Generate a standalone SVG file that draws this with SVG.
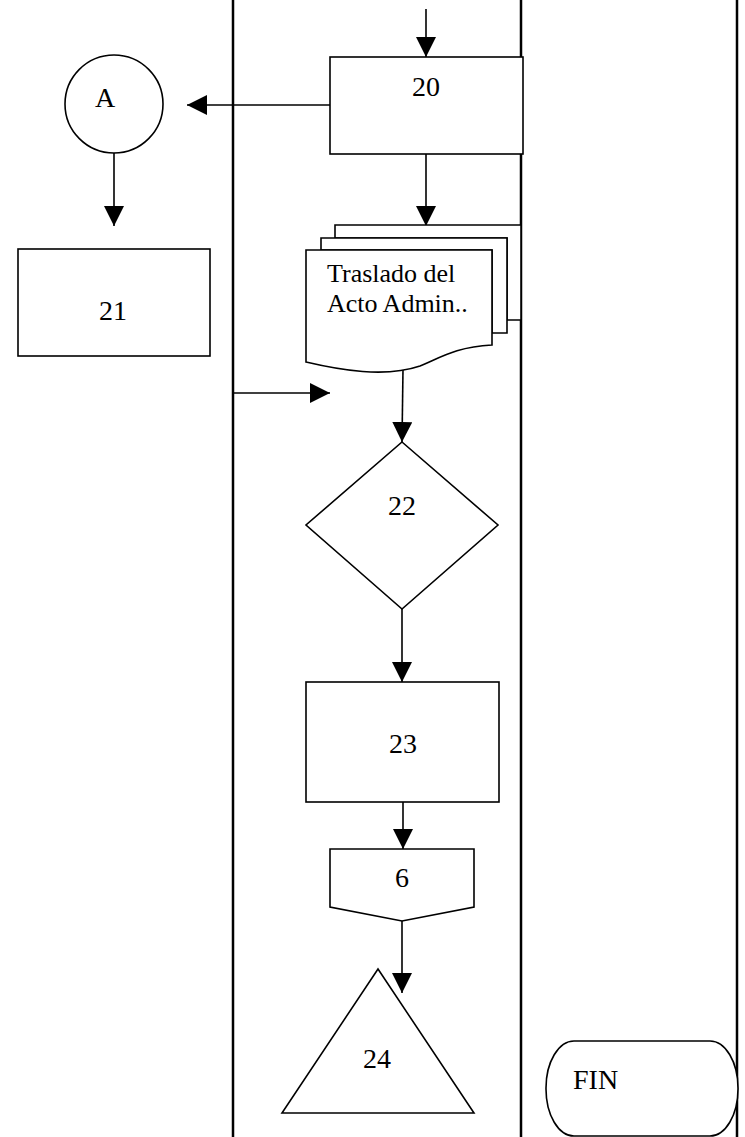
<svg xmlns="http://www.w3.org/2000/svg" width="745" height="1137" viewBox="0 0 745 1137">
  <style>
    .shape { fill: #fff; stroke: #000; stroke-width: 1.6; }
    .lane { stroke: #000; stroke-width: 2.5; fill: none; }
    .link { stroke: #000; stroke-width: 1.6; fill: none; }
    .lbl { font-family: "Liberation Serif", "Times New Roman", serif; font-size: 28px; fill: #000; }
    .doc { font-family: "Liberation Serif", "Times New Roman", serif; font-size: 26px; fill: #000; }
  </style>
  <defs>
    <marker id="arrow" viewBox="0 0 20 20" refX="20" refY="10" markerWidth="20" markerHeight="20" markerUnits="userSpaceOnUse" orient="auto">
      <path d="M0,0 L20,10 L0,20 Z" fill="#000"/>
    </marker>
  </defs>

  <rect width="745" height="1137" fill="#fff"/>

  <!-- swimlane separators -->
  <g id="lanes">
    <line class="lane" x1="233" y1="0" x2="233" y2="1137"/>
    <line class="lane" x1="521" y1="0" x2="521" y2="1137"/>
    <line class="lane" x1="737" y1="0" x2="737" y2="1137"/>
  </g>

  <!-- connectors -->
  <g id="connectors">
    <line class="link" x1="426" y1="9" x2="426" y2="57" marker-end="url(#arrow)"/>
    <line class="link" x1="330" y1="105" x2="187" y2="105" marker-end="url(#arrow)"/>
    <line class="link" x1="114" y1="153" x2="114" y2="226" marker-end="url(#arrow)"/>
    <line class="link" x1="426" y1="154" x2="426" y2="226" marker-end="url(#arrow)"/>
    <line class="link" x1="233" y1="393" x2="330" y2="393" marker-end="url(#arrow)"/>
    <line class="link" x1="403" y1="369" x2="402" y2="442" marker-end="url(#arrow)"/>
    <line class="link" x1="402" y1="609" x2="402" y2="682" marker-end="url(#arrow)"/>
    <line class="link" x1="403" y1="802" x2="403" y2="849" marker-end="url(#arrow)"/>
    <line class="link" x1="402" y1="921" x2="402" y2="993" marker-end="url(#arrow)"/>
  </g>

  <g id="node-20">
    <rect class="shape" x="330" y="57" width="193" height="97"/>
    <text class="lbl" x="426" y="96" text-anchor="middle">20</text>
  </g>

  <g id="node-A">
    <circle class="shape" cx="114" cy="104" r="49"/>
    <text class="lbl" x="105" y="107" text-anchor="middle">A</text>
  </g>

  <g id="node-21">
    <rect class="shape" x="18" y="249" width="192" height="107"/>
    <text class="lbl" x="113" y="320" text-anchor="middle">21</text>
  </g>

  <g id="node-doc">
    <path class="shape" d="M335,225 H521 V320 H507 V238 H335 Z"/>
    <path class="shape" d="M321,238 H507 V333 H492 V250 H321 Z"/>
    <path class="shape" d="M306,250 H492 V345 C455,347 440,358 420,366 C385,378 340,370 306,362 Z"/>
    <text class="doc" x="327" y="282">Traslado del</text>
    <text class="doc" x="327" y="312">Acto Admin..</text>
  </g>

  <g id="node-22">
    <polygon class="shape" points="402,442 498,525 402,609 306,525"/>
    <text class="lbl" x="402" y="515" text-anchor="middle">22</text>
  </g>

  <g id="node-23">
    <rect class="shape" x="306" y="682" width="193" height="120"/>
    <text class="lbl" x="403" y="753" text-anchor="middle">23</text>
  </g>

  <g id="node-6">
    <polygon class="shape" points="330,849 474,849 474,907 402,921 330,907"/>
    <text class="lbl" x="402" y="887" text-anchor="middle">6</text>
  </g>

  <g id="node-24">
    <polygon class="shape" points="378,969 474,1113 282,1113"/>
    <text class="lbl" x="377" y="1068" text-anchor="middle">24</text>
  </g>

  <g id="node-fin">
    <rect class="shape" x="546" y="1041" width="192" height="95" rx="28" ry="47"/>
    <text class="lbl" x="573" y="1089">FIN</text>
  </g>
</svg>
